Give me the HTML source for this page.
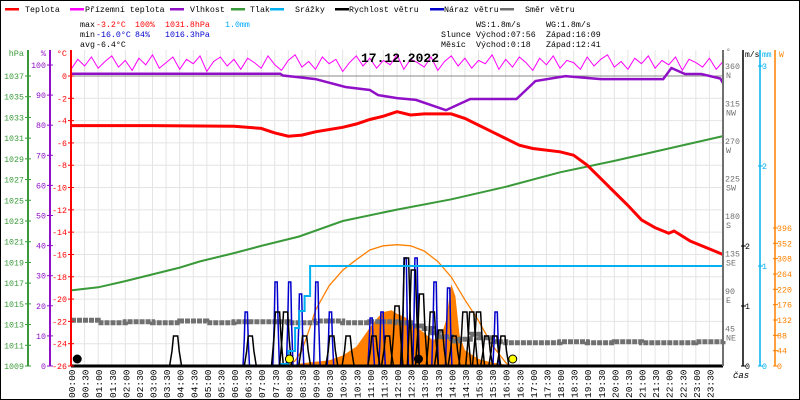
<!DOCTYPE html>
<html><head><meta charset="utf-8"><style>
body{margin:0;background:#fff}
svg{display:block;font-family:"Liberation Mono","DejaVu Sans Mono",monospace}
</style></head><body>
<svg id="c" width="800" height="400" viewBox="0 0 800 400">
<rect x="0.5" y="0.5" width="799" height="399" fill="#fff" stroke="#000"/>
<g id="grid"></g>
<g id="series"></g>
<g id="axes"></g>
<g id="legend"></g>
<g font-size="8.3">
<text y="27"><tspan x="80">max</tspan><tspan x="96" fill="#f00">-3.2°C</tspan><tspan x="135" fill="#f00">100%</tspan><tspan x="165" fill="#f00">1031.8hPa</tspan><tspan x="225" fill="#0af">1.0mm</tspan></text>
<text y="37"><tspan x="80">min</tspan><tspan x="96" fill="#00c">-16.0°C</tspan><tspan x="135" fill="#00c">84%</tspan><tspan x="165" fill="#00c">1016.3hPa</tspan></text>
<text y="47"><tspan x="80">avg</tspan><tspan x="96">-6.4°C</tspan></text>
<text y="27"><tspan x="476">WS:1.8m/s</tspan><tspan x="546">WG:1.8m/s</tspan></text>
<text y="37"><tspan x="441">Slunce</tspan><tspan x="476">Východ:07:56</tspan><tspan x="546">Západ:16:09</tspan></text>
<text y="47"><tspan x="441">Měsíc</tspan><tspan x="476">Východ:0:18</tspan><tspan x="546">Západ:12:41</tspan></text>
</g>
<text x="400" y="62" text-anchor="middle" font-size="13" font-weight="bold">17.12.2022</text>
</svg>
<script>
const NS='http://www.w3.org/2000/svg';
// ---- data ----
const tempHours=[0,3,6,7,7.5,8,8.5,9,10,10.5,11,11.5,12,12.5,13,13.5,14,14.5,15,15.5,16,16.5,17,18,18.5,19,19.5,20,20.5,21,21.5,22,22.2,22.8,23.6,24];
const tempValues=[-4.45,-4.45,-4.5,-4.7,-5.1,-5.4,-5.3,-5.0,-4.6,-4.3,-3.9,-3.6,-3.2,-3.5,-3.4,-3.4,-3.4,-3.8,-4.4,-5.0,-5.6,-6.2,-6.5,-6.8,-7.1,-8.0,-9.2,-10.4,-11.6,-12.9,-13.6,-14.1,-13.9,-14.8,-15.6,-16.0];
const feelValues=[0.6,1.5,0.9,1.7,0.7,1.3,1.8,0.8,1.4,0.5,1.6,1.0,1.9,0.7,1.2,1.7,0.6,1.5,1.1,1.8,0.4,1.3,1.7,0.9,1.5,0.6,1.6,1.2,0.7,1.8,1.0,0.5,1.4,1.9,0.8,1.3,0.6,1.7,1.1,1.5,0.4,1.2,1.8,0.9,1.6,0.7,1.4,1.0,1.9,0.6,1.5,1.2,0.8,1.7,0.5,1.3,1.8,0.9,1.6,0.7,1.4,1.1,1.9,0.6,1.5,0.8,1.7,1.2,0.5,1.6,1.0,1.8,0.7,1.4,1.2,0.6,1.7,0.9,1.5,1.9,0.8,1.3,0.6,1.6,1.1,1.8,0.7,1.4,1.0,1.7,0.5,1.5,1.2,0.8,1.6,0.6,1.3];
const pressHours=[0,1,2,4,4.75,6,7,8.4,10,12,14,16,18,20,22,24];
const pressValues=[1016.3,1016.6,1017.2,1018.5,1019.1,1019.9,1020.6,1021.5,1023.0,1024.1,1025.1,1026.3,1027.7,1028.8,1030.0,1031.2];
const humHours=[0,7.7,7.8,8.3,9.0,10.1,11.0,11.3,12.0,12.7,13.8,14.7,16.4,17.1,18.2,19.5,21.8,22.1,22.6,23.2,23.9,24];
const humValues=[97.1,97.1,96.5,96.0,95.3,92.7,91.7,90.0,89.0,88.4,85.0,88.7,88.7,94.7,96.3,95.3,95.3,99.0,97.0,97.0,95.5,94.0];
const rainHours=[0,7.5,7.75,8.0,8.25,8.4,8.6,8.8,24];
const rainValues=[0,0,0.02,0.15,0.38,0.55,0.7,1.0,1.0];
const dirHours=[0,1,2,3,4,5,6,7,8,9,10,11,12,12.5,13,13.3,13.6,14,14.3,14.7,15,15.5,16,17,18,19,20,21,22,23,24];
const dirValues=[55,52,53,52,54,52,53,53,52,54,52,53,52,48,45,40,35,30,32,38,34,29,28,28,29,28,29,28,28,29,30];
const windPeaks=[3.85,6.6,7.6,7.9,8.6,9.6,10.2,11.15,11.65,12.0,12.35,12.6,12.9,13.3,13.6,14.1,14.5,14.75,15.0,15.3,15.6,15.9];
const windLevels=[0.5,0.5,0.9,0.9,0.5,0.5,0.5,0.5,0.5,1.0,1.8,1.6,1.2,0.9,0.6,0.5,0.9,0.9,0.9,0.5,0.5,0.5];
const gustPeaks=[6.45,7.55,8.05,8.45,9.05,9.55,11.05,11.45,12.3,12.7,13.4,13.9,15.65];
const gustLevels=[0.9,1.4,1.4,1.2,1.4,0.9,0.8,0.9,1.8,1.8,1.4,1.3,0.9];
const solarHours=[8,8.5,9,9.5,10,10.5,11,11.3,11.5,11.8,12,12.3,12.6,13,13.3,13.6,13.8,14.0,14.15,14.3,14.5,15,15.5,16,16.15];
const solarValues=[0,8,12,16,30,55,110,140,155,160,150,140,120,95,75,80,130,235,200,90,45,20,10,4,0];
const theoHours=[8,8.25,8.5,8.75,9,9.5,10,10.5,11,11.5,12,12.5,13,13.5,14,14.5,15,15.5,16,16.15];
const theoValues=[0,15,45,100,160,230,275,305,333,345,348,345,330,300,255,190,130,60,10,0];
// ---- scales ----
const X0=71,X1=723;
const x=h=>X0+h*(X1-X0)/24;
const yT=v=>76-v*(290/26);
const yP=v=>366-(v-1009)*(290/28);
const yH=v=>366-v*3.01;
const yD=v=>366-v*(300/360);
const yW=v=>366-v*60;
const yR=v=>366-v*100;
const yS=v=>366-v*(138/396);
function el(tag,attrs,parent,txt){const e=document.createElementNS(NS,tag);for(const k in attrs)e.setAttribute(k,attrs[k]);if(txt!==undefined)e.textContent=txt;parent.appendChild(e);return e;}
const G=document.getElementById('grid'),S=document.getElementById('series'),A=document.getElementById('axes'),L=document.getElementById('legend');
for(let i=0;i<=48;i++){const gx=x(i/2);const l=el('line',{x1:gx,x2:gx,y1:50,y2:366,stroke:'#e4e4e4'},G);

}
for(let v=0;v>=-26;v-=2){const l=el('line',{x1:X0,x2:X1,y1:yT(v),y2:yT(v),stroke:v===0?'#888':'#e4e4e4'},G);

}
function pts(hs,vs,fy){return hs.map((h,i)=>x(h).toFixed(1)+','+fy(vs[i]).toFixed(1)).join(' ');}
function stepPts(hs,vs,fy){let p=[];hs.forEach((h,i)=>{if(i>0)p.push(x(h).toFixed(1)+','+fy(vs[i-1]).toFixed(1));p.push(x(h).toFixed(1)+','+fy(vs[i]).toFixed(1));});return p.join(' ');}
let sp=pts(solarHours,solarValues,yS)+' '+x(solarHours[solarHours.length-1])+','+yS(0)+' '+x(solarHours[0])+','+yS(0);
const sa=el('polygon',{points:sp,fill:'#ff8000'},S);


const th=el('polyline',{points:pts(theoHours,theoValues,yS),fill:'none',stroke:'#ff8000','stroke-width':1.3},S);


const dr=el('polyline',{points:stepPts(dirHours,dirValues,yD),fill:'none',stroke:'#707070','stroke-width':5,'stroke-dasharray':'5 1'},S);


function pulses(peaks,levels,color,name,w){peaks.forEach((t,i)=>{const h=levels[i];const p=[[t-w,0],[t-w*0.6,h*0.5],[t-w*0.35,h],[t+w*0.35,h],[t+w*0.6,h*0.5],[t+w,0]].map(q=>x(q[0]).toFixed(1)+','+yW(q[1]).toFixed(1)).join(' ');
const e=el('polyline',{points:p,fill:'none',stroke:color,'stroke-width':1.5},S);

});}
pulses(gustPeaks,gustLevels,'#0000cc','wind-gust-pulse',0.12);
pulses(windPeaks,windLevels,'#000','wind-speed-pulse',0.22);
const rn=el('polyline',{points:stepPts(rainHours,rainValues,yR),fill:'none',stroke:'#00b0f0','stroke-width':2},S);


const pr=el('polyline',{points:pts(pressHours,pressValues,yP),fill:'none',stroke:'#3a9a3a','stroke-width':2},S);


const fh=feelValues.map((v,i)=>i*0.25);
const fl=el('polyline',{points:pts(fh,feelValues,yT),fill:'none',stroke:'#ff00ff','stroke-width':1},S);


const hu=el('polyline',{points:pts(humHours,humValues,yH),fill:'none',stroke:'#9010c8','stroke-width':2.5},S);


const tp=el('polyline',{points:pts(tempHours,tempValues,yT),fill:'none',stroke:'#f00','stroke-width':3},S);


[[0.12,'#000','moonrise-marker'],[12.68,'#000','moonset-marker'],[7.93,'#ff0','sunrise-marker'],[16.15,'#ff0','sunset-marker']].forEach(m=>{const c=el('circle',{cx:x(m[0])+3,cy:359,r:4,fill:m[1],stroke:'#000'},S);

});
const bl=el('line',{x1:X0,x2:X1,y1:366,y2:366,stroke:'#000','stroke-width':3},A);


for(let i=0;i<48;i++){const h=Math.floor(i/2),m=i%2?'30':'00';const lx=x(i/2)+4;
const t=el('text',{x:0,y:0,transform:`translate(${lx},398) rotate(-90)`,'font-size':9.5},A,(h<10?'0':'')+h+':'+m);

}
el('text',{x:733,y:378,'font-size':9,'font-style':'italic'},A,'čas');
function vaxis(ax,color,name,ticks,fy,fmt,side,unit,uy){const g=el('g',{},A);
el('line',{x1:ax,x2:ax,y1:50,y2:366,stroke:color,'stroke-width':2},g);
ticks.forEach(v=>{const ty=fy(v);el('line',{x1:ax-3,x2:ax+3,y1:ty,y2:ty,stroke:color},g);
el('text',{x:side<0?ax-4:ax+4,y:ty+3,'text-anchor':side<0?'end':'start','font-size':8.3,fill:color},g,fmt(v));});
el('text',{x:side<0?ax-4:ax+2,y:uy,'text-anchor':side<0?'end':'start','font-size':8.5,fill:color},g,unit);}
const pTicks=[1009,1011,1013,1015,1017,1019,1021,1023,1025,1027,1029,1031,1033,1035,1037];
vaxis(28,'#3a9a3a','pressure-axis',pTicks,yP,v=>v,-1,'hPa',56);
vaxis(50,'#9010c8','humidity-axis',[0,10,20,30,40,50,60,70,80,90,100],yH,v=>v,-1,'%',56);
vaxis(71,'#f00','temperature-axis',[0,-2,-4,-6,-8,-10,-12,-14,-16,-18,-20,-22,-24,-26],yT,v=>v,-1,'°C',56);
const dg=el('g',{},A);
el('line',{x1:723,x2:723,y1:50,y2:366,stroke:'#707070','stroke-width':2},dg);
const dirTicks=[45,90,135,180,225,270,315,360];const dirNames=['NE','E','SE','S','SW','W','NW','N'];
dirTicks.forEach((v,i)=>{el('text',{x:725,y:yD(v)+3,'font-size':8.3,fill:'#707070'},dg,v);el('text',{x:726,y:yD(v)+12,'font-size':8.3,fill:'#707070'},dg,dirNames[i]);});
el('text',{x:726,y:54,'font-size':8,fill:'#707070'},dg,'°');
function raxis(ax,color,name,ticks,fy,unit,ux){const g=el('g',{},A);
el('line',{x1:ax,x2:ax,y1:50,y2:366,stroke:color,'stroke-width':1.5},g);
ticks.forEach(v=>{const ty=fy(v);el('line',{x1:ax-2,x2:ax+3,y1:ty,y2:ty,stroke:color},g);el('text',{x:ax+2,y:ty+3,'font-size':8.3,fill:color},g,v);});
el('text',{x:ux,y:57,'font-size':8,fill:color},g,unit);}
raxis(743,'#000','wind-speed-axis',[0,1,2],yW,'m/s',745);
raxis(760,'#00b0f0','rain-axis',[0,1,2,3],yR,'mm',762);
raxis(775,'#ff8000','solar-axis',[0,44,88,132,176,220,264,308,352,396],yS,'W',779);
const legNames=['Teplota','Přízemní teplota','Vlhkost','Tlak','Srážky','Rychlost větru','Náraz větru','Směr větru'];
const legColors=['#f00','#ff00ff','#9010c8','#3a9a3a','#00b0f0','#000','#0000cc','#707070'];
const legLineX=[5,70,170,231,270,335,430,500];
const legTextX=[25,85,190,250,295,349,444,525];
legNames.forEach((n,i)=>{const g=el('g',{},L);
el('rect',{x:legLineX[i],y:8,width:14,height:2.5,fill:legColors[i]},g);el('text',{x:legTextX[i],y:12,'font-size':8.3},g,n);});
</script>
</body></html>
